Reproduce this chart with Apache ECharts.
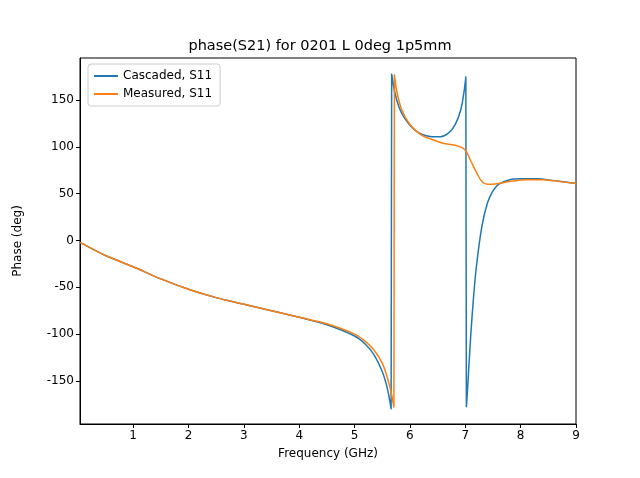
<!DOCTYPE html>
<html>
<head>
<meta charset="UTF-8">
<script src="https://cdn.jsdelivr.net/npm/echarts/dist/echarts.min.js"></script>
<style>body{margin:0}</style>
</head>
<body>
<div id="chart" style="width:640px;height:478px;"></div>
<script>
var chart = echarts.init(document.getElementById('chart'));

// values: [frequency GHz, phase deg]
var cascaded = [
  [0.04,-2],[0.5,-16],[1,-28],[1.5,-41],[2,-52],[2.5,-61],[3,-68],[3.5,-75],[4,-82],[4.5,-90],
  [5,-102],[5.2,-111],[5.35,-122],[5.5,-140],[5.6,-160],[5.66,-180],[5.67,178],[5.72,160],
  [5.8,143],[5.9,131],[6.05,120],[6.2,114],[6.4,111],[6.55,111],[6.7,115],[6.82,124],
  [6.92,140],[6.98,160],[7.01,175],[7.02,-178],[7.05,-150],[7.1,-100],[7.15,-60],[7.2,-28],
  [7.3,15],[7.4,40],[7.5,53],[7.6,60],[7.8,65],[8,66],[8.3,66],[8.6,64],[9,61]
];
var measured = [
  [0.04,-2],[0.5,-16],[1,-28],[1.5,-41],[2,-52],[2.5,-61],[3,-68],[3.5,-75],[4,-82],[4.5,-89],
  [5,-100],[5.2,-108],[5.35,-117],[5.5,-131],[5.6,-148],[5.67,-165],[5.71,-178],[5.72,177],
  [5.76,160],[5.85,140],[6,124],[6.2,113],[6.4,108],[6.6,104],[6.8,102],[6.95,99],[7.02,95],
  [7.1,85],[7.2,73],[7.3,63],[7.4,60],[7.6,61],[7.8,63],[8.1,65],[8.4,65],[8.7,63],[9,61]
];
var xTicks = [1,2,3,4,5,6,7,8,9];
var yTicks = [-150,-100,-50,0,50,100,150];

var font = 'DejaVu Sans';
chart.setOption({
  animation: false,
  textStyle: { fontFamily: font },
  title: { text: 'phase(S21) for 0201 L 0deg 1p5mm', left: 'center', top: 34,
    textStyle: { fontFamily: font, fontSize: 14.5, fontWeight: 'normal', color: '#000' } },
  legend: {
    left: 88, top: 64, orient: 'vertical', itemGap: 6, itemWidth: 24, itemHeight: 2,
    padding: [6, 8, 6, 6], borderColor: '#ccc', borderWidth: 1, borderRadius: 3,
    icon: 'rect', textStyle: { fontFamily: font, fontSize: 12, color: '#000' },
    data: ['Cascaded, S11', 'Measured, S11']
  },
  grid: { left: 80, right: 64, top: 58, bottom: 54, show: true, borderColor: '#000', borderWidth: 1 },
  xAxis: {
    type: 'value', min: 0.04, max: 9, name: 'Frequency (GHz)', nameLocation: 'middle', nameGap: 24,
    nameTextStyle: { fontFamily: font, fontSize: 12, color: '#000' },
    axisLine: { show: true, onZero: false, lineStyle: { color: '#000' } },
    axisTick: { show: true, inside: false, length: 4, customValues: xTicks, lineStyle: { color: '#000' } },
    axisLabel: { customValues: xTicks, color: '#000', fontSize: 12, margin: 6 },
    splitLine: { show: false }
  },
  yAxis: {
    type: 'value', min: -196, max: 195, name: 'Phase (deg)', nameLocation: 'middle', nameGap: 56,
    nameTextStyle: { fontFamily: font, fontSize: 12, color: '#000' },
    axisLine: { show: true, onZero: false, lineStyle: { color: '#000' } },
    axisTick: { show: true, inside: false, length: 4, customValues: yTicks, lineStyle: { color: '#000' } },
    axisLabel: { customValues: yTicks, color: '#000', fontSize: 12, margin: 6 },
    splitLine: { show: false }
  },
  series: [
    { name: 'Cascaded, S11', type: 'line', data: cascaded, showSymbol: false, smooth: 0.3,
      itemStyle: { color: '#1f77b4' }, lineStyle: { width: 1.5, color: '#1f77b4' } },
    { name: 'Measured, S11', type: 'line', data: measured, showSymbol: false, smooth: 0.3,
      itemStyle: { color: '#ff7f0e' }, lineStyle: { width: 1.5, color: '#ff7f0e' } }
  ]
});
</script>
</body>
</html>
